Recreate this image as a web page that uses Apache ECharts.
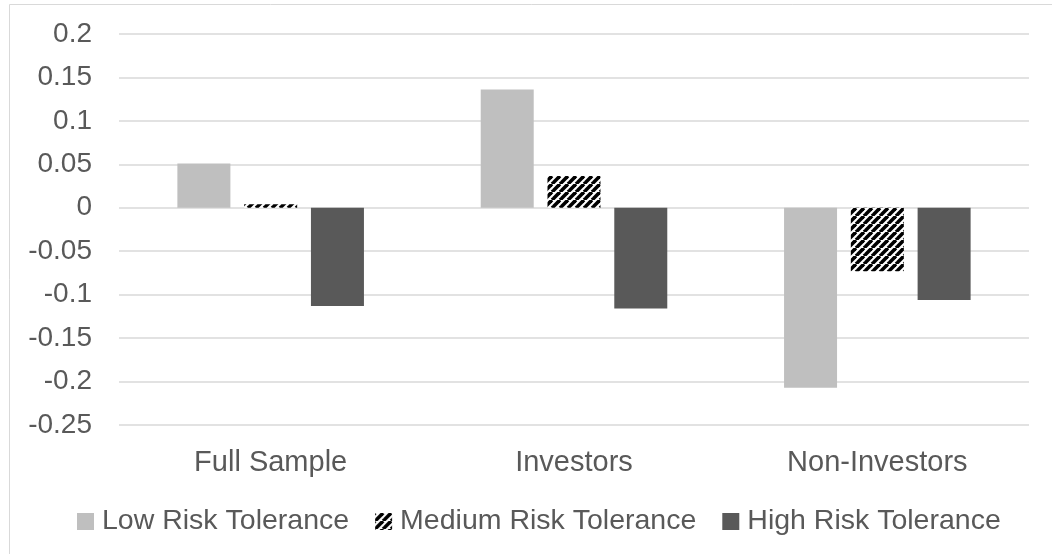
<!DOCTYPE html>
<html>
<head>
<meta charset="utf-8">
<script src="https://cdn.jsdelivr.net/npm/echarts@6/dist/echarts.min.js"></script>
<style>
html,body{margin:0;padding:0;background:#fff;}
#chart{width:1052px;height:554px;}
</style>
</head>
<body>
<div id="chart"></div>
<script>
// Groups and series values
const categories = ['Full Sample', 'Investors', 'Non-Investors'];
const seriesNames = ['Low Risk Tolerance', 'Medium Risk Tolerance', 'High Risk Tolerance'];
const lowRisk = [0.051, 0.136, -0.207];
const mediumRisk = [0.004, 0.0365, -0.073];
const highRisk = [-0.113, -0.116, -0.106];
const yTicks = { min: -0.25, max: 0.2, step: 0.05 };

// Diagonal black/white stripe tile for the medium series
function stripeTile() {
  const s = 8;
  const c = document.createElement('canvas');
  c.width = s; c.height = s;
  const g = c.getContext('2d');
  g.fillStyle = '#fff';
  g.fillRect(0, 0, s, s);
  g.strokeStyle = '#000';
  g.lineWidth = 3.6;
  for (const off of [-s, 0, s]) {
    g.beginPath();
    g.moveTo(off, s);
    g.lineTo(off + s, 0);
    g.stroke();
  }
  return c;
}

const txt = '#595959';
const font = '"Liberation Sans", Arial, sans-serif';
const chart = echarts.init(document.getElementById('chart'));

chart.setOption({
  animation: false,
  backgroundColor: '#fff',
  textStyle: { fontFamily: font },
  graphic: [{
    type: 'rect',
    shape: { x: 9.5, y: 4.5, width: 1100, height: 600 },
    style: { fill: 'none', stroke: '#D9D9D9', lineWidth: 1 },
    silent: true
  }],
  grid: { left: 119, right: 23, top: 34, bottom: 129, containLabel: false },
  legend: {
    data: seriesNames,
    top: 502,
    left: 72,
    icon: 'rect',
    itemWidth: 17,
    itemHeight: 17,
    itemGap: 26,
    textStyle: { color: txt, fontSize: 28.5, fontFamily: font, padding: [0, 0, 0, 3] }
  },
  xAxis: {
    type: 'category',
    data: categories,
    axisLine: { show: false },
    axisTick: { show: false },
    axisLabel: { color: txt, fontSize: 29, fontFamily: font, margin: 23 }
  },
  yAxis: {
    type: 'value',
    min: yTicks.min,
    max: yTicks.max,
    interval: yTicks.step,
    axisLine: { show: false },
    axisTick: { show: false },
    splitLine: { lineStyle: { color: '#D9D9D9', width: 1.5 } },
    axisLabel: {
      color: txt, fontSize: 28, fontFamily: font, margin: 27,
      formatter: v => String(Math.round(v * 100) / 100)
    }
  },
  series: [
    {
      name: seriesNames[0], type: 'bar', data: lowRisk,
      barWidth: 53, barGap: '26%',
      itemStyle: { color: '#BFBFBF' }
    },
    {
      name: seriesNames[1], type: 'bar', data: mediumRisk,
      barWidth: 53, barGap: '26%',
      itemStyle: { color: { image: stripeTile(), repeat: 'repeat' } }
    },
    {
      name: seriesNames[2], type: 'bar', data: highRisk,
      barWidth: 53, barGap: '26%',
      itemStyle: { color: '#595959' }
    }
  ]
});
</script>
</body>
</html>
